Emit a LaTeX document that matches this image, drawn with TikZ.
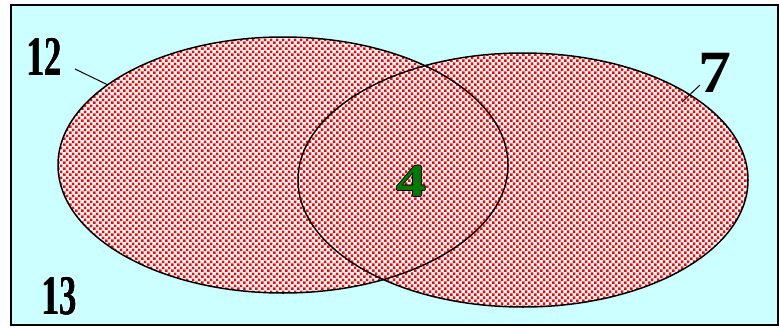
\documentclass[tikz,border=0pt]{standalone}
\usepackage{fontspec}
\setmainfont{Liberation Serif}
\usetikzlibrary{patterns.meta}
\definecolor{vennsky}{HTML}{CCFFFF}
\definecolor{venngreen}{HTML}{007A00}
\tikzdeclarepattern{
  name=venndots,
  type=uncolored,
  bottom left={(0pt,0pt)},
  top right={(6.4pt,6.4pt)},
  tile size={(6.4pt,6.4pt)},
  code={
    \fill (0pt,0pt) rectangle (2.8pt,2.8pt);
    \fill (3.2pt,3.2pt) rectangle (6pt,6pt);
  }
}
\newcommand{\vennoutline}[1]{\leavevmode
  \rlap{\kern-1pt\textcolor{black}{#1}}\rlap{\kern1pt\textcolor{black}{#1}}%
  \rlap{\raisebox{1pt}{\textcolor{black}{#1}}}\rlap{\raisebox{-1pt}{\textcolor{black}{#1}}}%
  \textcolor{venngreen}{#1}}
\newcommand{\vennheavy}[1]{\leavevmode
  \rlap{\kern-0.7pt#1}\rlap{\kern0.7pt#1}#1}

\begin{document}
\begin{tikzpicture}[x=1pt,y=-1pt,
    setfill/.style={fill=white,postaction={pattern=venndots,pattern color=red}},
    setline/.style={draw=black,line width=1.5pt},
    count/.style={inner sep=0pt,font=\bfseries\fontsize{56}{56}\selectfont}]
  \useasboundingbox (0,0) rectangle (779,327);
  \draw[fill=vennsky,line width=2pt] (11,5) rectangle (778,325);
  % the two sets
  \fill[setfill] (283,165) ellipse [x radius=225,y radius=128];
  \fill[setfill] (523,180) ellipse [x radius=225,y radius=127];
  \draw[setline] (283,165) ellipse [x radius=225,y radius=128];
  \draw[setline] (523,180) ellipse [x radius=225,y radius=127];
  % counts
  \node[count,xscale=0.62] (n12) at (44.5,56.5) {\vennheavy{12}};
  \node[count,xscale=0.62] (n13) at (59.5,296.5) {\vennheavy{13}};
  \node[count,font=\bfseries\fontsize{60}{60}\selectfont,xscale=1.1] (n7) at (715,72.5) {7};
  \node[count,font=\bfseries\fontsize{46}{46}\selectfont,xscale=1.3] (n4) at (411.5,181) {\vennoutline{4}};
  % leaders
  \coordinate (a12) at (75,69);
  \coordinate (b12) at (108,85);
  \coordinate (a7) at (700,85);
  \coordinate (b7) at (682,102);
  \draw[line width=1pt] (a12) -- (b12);
  \draw[line width=1pt] (a7) -- (b7);
\end{tikzpicture}
\end{document}
